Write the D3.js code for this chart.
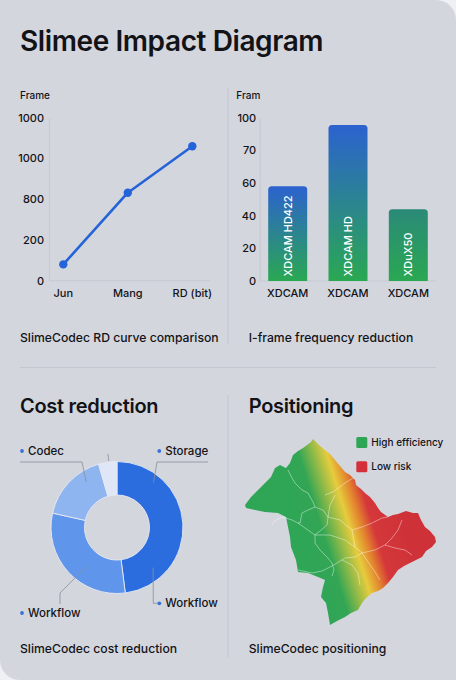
<!DOCTYPE html>
<html>
<head>
<meta charset="utf-8">
<script src="https://cdn.jsdelivr.net/npm/d3@7"></script>
<style>
html, body { margin: 0; padding: 0; background: #eef0f4; }
#card { width: 456px; height: 680px; background: #d4d6de; border-radius: 0 20px 0 20px; overflow: hidden; }
svg { display: block; font-family: Inter, "Noto Sans", sans-serif; }
</style>
</head>
<body>
<div id="card"><svg id="chart" width="456" height="680"></svg></div>
<script>
// RD curve (top left)
var lineMonths = ["Jun", "Mang", "RD (bit)"];
var lineValues = [100, 540, 825];
var lineTickValues = [0, 250, 500, 750, 1000];
var lineTickLabels = ["0", "200", "800", "1000", "1000"];

// I-frame bars (top right)
var barCategories = ["XDCAM", "XDCAM", "XDCAM"];
var barNames = ["XDCAM HD422", "XDCAM HD", "XDuX50"];
var barValues = [58, 95.5, 44];
var barTickValues = [0, 20, 40, 60, 80, 100];
var barTickLabels = ["0", "20", "40", "60", "70", "100"];

// Cost donut (bottom left)
var costLabels = ["Storage", "Workflow", "Codec", "Other"];
var costValues = [48, 30.5, 17, 4.5];
var costCallouts = ["Codec", "Storage", "Workflow", "Workflow"];

// Positioning map (bottom right), in map units
var legendLabels = ["High efficiency", "Low risk"];
var mapOutline = [
    [73,4],[79,10],[85,15],[90,19],[95,25],[100,31],[105,37],[110,40],[115,45],[116,50],
    [121,54],[125,58],[130,62],[135,68],[138,73],[141,77],[148,82],
    [153,80],[158,79],[166,76],[173,78],[178,78],[181,85],[185,92],[190,96],[195,102],[196,107],
    [192,112],[186,116],[182,122],[176,125],[170,128],[164,131],[158,135],[153,142],
    [148,148],[143,153],[138,156],[132,158],[126,163],[122,168],[118,175],[111,178],
    [105,182],[97,186],[90,190],[88,178],[86,168],[81,162],[83,152],[85,145],[78,142],
    [68,138],[58,137],[56,125],[51,112],[50,102],[48,92],[46,82],[38,78],[25,77],[15,75],
    [6,73],[5,70],[11,62],[18,55],[25,48],[31,42],[35,33],[40,30],[46,33],[50,28],[53,20],
    [58,16],[63,13],[71,7]
];
var mapBorders = [
    [[48,35],[52,43],[55,48],[62,55],[68,58],[73,67],[75,72]],
    [[75,72],[83,75],[88,82],[87,90],[80,96],[75,100]],
    [[32,90],[36,85],[42,82],[52,85],[58,88],[65,93],[75,100]],
    [[75,100],[75,108],[80,115],[87,122],[92,128],[94,135],[92,141]],
    [[75,100],[90,100],[105,105],[115,112],[122,118]],
    [[58,135],[72,138],[82,136],[92,131],[105,123],[115,122],[122,118]],
    [[122,118],[135,115],[145,110],[152,103],[158,95],[162,85]],
    [[112,95],[122,92],[132,88],[142,83],[148,82]],
    [[95,60],[90,70],[88,82]],
    [[85,60],[93,57],[105,48],[113,43]],
    [[122,118],[128,127],[135,137],[140,145]],
    [[145,110],[155,113],[165,115],[172,120]],
    [[88,82],[100,85],[112,95],[115,112]],
    [[62,78],[68,75],[75,72]],
    [[62,78],[60,88],[58,88]],
    [[102,125],[112,130],[118,138],[120,150]]
];

var ink = "#121317";
var svg = d3.select("#chart");

// title
svg.append("text")
    .attr("x", 20).attr("y", 51)
    .attr("font-size", 28).attr("font-weight", 600)
    .attr("letter-spacing", -0.4)
    .attr("fill", ink)
    .text("Slimee Impact Diagram");

// dividers
var divider = "#c3c6cf";
svg.append("line").attr("x1", 228).attr("x2", 228).attr("y1", 88).attr("y2", 344).attr("stroke", divider);
svg.append("line").attr("x1", 20).attr("x2", 436).attr("y1", 367.5).attr("y2", 367.5).attr("stroke", divider);
svg.append("line").attr("x1", 228).attr("x2", 228).attr("y1", 395).attr("y2", 657).attr("stroke", divider);

function caption(x, y, txt) {
    svg.append("text").attr("x", x).attr("y", y)
        .attr("font-size", 12.2).attr("font-weight", 500)
        .attr("fill", ink).text(txt);
}
function heading(x, y, txt) {
    svg.append("text").attr("x", x).attr("y", y)
        .attr("font-size", 20).attr("font-weight", 600)
        .attr("letter-spacing", -0.3)
        .attr("fill", ink).text(txt);
}
function styleAxis(g) {
    g.select(".domain").attr("stroke", "#c6c9d2");
    g.selectAll(".tick line").remove();
    g.selectAll(".tick text")
        .attr("font-family", "Inter, 'Noto Sans', sans-serif")
        .attr("font-size", 11).attr("font-weight", 500)
        .attr("fill", ink);
}

// ---------- Line chart ----------
svg.append("text").attr("x", 20).attr("y", 98.5)
    .attr("font-size", 10).attr("font-weight", 500).attr("fill", ink).text("Frame");

var yLine = d3.scaleLinear().domain([0, 1000]).range([280.7, 117.7]);
var xLine = d3.scalePoint().domain(lineMonths).range([63.3, 192.3]);

var gyl = svg.append("g").attr("transform", "translate(49,0)")
    .call(d3.axisLeft(yLine).tickValues(lineTickValues).tickSize(0).tickPadding(5)
        .tickFormat(function (d, i) { return lineTickLabels[i]; }));
styleAxis(gyl);

svg.append("line").attr("x1", 49).attr("x2", 210).attr("y1", yLine(0)).attr("y2", yLine(0))
    .attr("stroke", "#c6c9d2");

svg.selectAll(".xlab").data(lineMonths).enter().append("text")
    .attr("x", function (d) { return xLine(d); })
    .attr("y", 297)
    .attr("text-anchor", "middle")
    .attr("font-size", 11).attr("font-weight", 500).attr("fill", ink)
    .text(function (d) { return d; });

var lineGen = d3.line()
    .x(function (d, i) { return xLine(lineMonths[i]); })
    .y(function (d) { return yLine(d); });

svg.append("path").datum(lineValues)
    .attr("d", lineGen)
    .attr("fill", "none")
    .attr("stroke", "#2563d8")
    .attr("stroke-width", 2.6)
    .attr("stroke-linejoin", "round");

svg.selectAll(".pt").data(lineValues).enter().append("circle")
    .attr("cx", function (d, i) { return xLine(lineMonths[i]); })
    .attr("cy", function (d) { return yLine(d); })
    .attr("r", 4.2)
    .attr("fill", "#2563d8");

caption(20, 342, "SlimeCodec RD curve comparison");

// ---------- Bar chart ----------
svg.append("text").attr("x", 236.3).attr("y", 98.5)
    .attr("font-size", 10).attr("font-weight", 500).attr("fill", ink).text("Fram");

var yBar = d3.scaleLinear().domain([0, 100]).range([281, 117.7]);
var xBar = d3.scaleBand().domain(d3.range(barValues.length)).range([260, 436])
    .paddingInner(0.353).paddingOuter(0.136);

var gyb = svg.append("g").attr("transform", "translate(259.7,0)")
    .call(d3.axisLeft(yBar).tickValues(barTickValues).tickSize(0).tickPadding(3.5)
        .tickFormat(function (d, i) { return barTickLabels[i]; }));
styleAxis(gyb);

svg.append("line").attr("x1", 259.7).attr("x2", 436).attr("y1", yBar(0)).attr("y2", yBar(0))
    .attr("stroke", "#c6c9d2");

var topColor = d3.scaleLinear().domain([44, 58]).range(["#2b8a78", "#2c62cf"]).clamp(true);
var defs = svg.append("defs");
barValues.forEach(function (v, i) {
    var gr = defs.append("linearGradient").attr("id", "barGrad" + i)
        .attr("x1", 0).attr("y1", 0).attr("x2", 0).attr("y2", 1);
    gr.append("stop").attr("offset", "0%").attr("stop-color", topColor(v));
    gr.append("stop").attr("offset", "55%").attr("stop-color", d3.interpolateRgb(topColor(v), "#2aa752")(0.55));
    gr.append("stop").attr("offset", "100%").attr("stop-color", "#2aa852");
});

function topRoundedBar(x, y, w, h, r) {
    return "M" + x + "," + (y + h) +
        "V" + (y + r) +
        "Q" + x + "," + y + " " + (x + r) + "," + y +
        "H" + (x + w - r) +
        "Q" + (x + w) + "," + y + " " + (x + w) + "," + (y + r) +
        "V" + (y + h) + "Z";
}

svg.selectAll(".bar").data(barValues).enter().append("path")
    .attr("d", function (d, i) {
        return topRoundedBar(xBar(i), yBar(d), xBar.bandwidth(), yBar(0) - yBar(d), 3.5);
    })
    .attr("fill", function (d, i) { return "url(#barGrad" + i + ")"; });

svg.selectAll(".barname").data(barNames).enter().append("text")
    .attr("transform", function (d, i) {
        return "translate(" + (xBar(i) + xBar.bandwidth() / 2) + "," + (yBar(0) - 4.5) + ") rotate(-90)";
    })
    .attr("dy", "0.36em")
    .attr("font-size", 11).attr("font-weight", 500)
    .attr("fill", "#ffffff")
    .text(function (d) { return d; });

svg.selectAll(".barcat").data(barCategories).enter().append("text")
    .attr("x", function (d, i) { return xBar(i) + xBar.bandwidth() / 2; })
    .attr("y", 297)
    .attr("text-anchor", "middle")
    .attr("font-size", 11).attr("font-weight", 500).attr("fill", ink)
    .text(function (d) { return d; });

caption(248.7, 342, "I-frame frequency reduction");

// ---------- Donut ----------
heading(20, 413, "Cost reduction");

var cx = 117, cy = 527.5;
var costColors = d3.scaleOrdinal().domain(costLabels)
    .range(["#2b6ddf", "#5f95ea", "#8fb5f1", "#dfe7f7"]);
var pie = d3.pie().sort(null).value(function (d) { return d; });
var arc = d3.arc().innerRadius(32.5).outerRadius(66);
var gd = svg.append("g").attr("transform", "translate(" + cx + "," + cy + ")");

gd.selectAll("path").data(pie(costValues)).enter().append("path")
    .attr("d", arc)
    .attr("fill", function (d, i) { return costColors(costLabels[i]); })
    .attr("stroke", "#e6e9f1")
    .attr("stroke-width", 0.9);

var deg = Math.PI / 180;
function rad(a, r) { var p = d3.pointRadial(a * deg, r); return [cx + p[0], cy + p[1]]; }
var callouts = [
    { text: costCallouts[0], pts: [rad(326, 55), [82, 462], [20, 462]], dot: [22, 451] },
    { text: costCallouts[1], pts: [rad(39, 58), [157, 462], [208, 462]], dot: [159.3, 451] },
    { text: costCallouts[2], pts: [rad(138, 54), [153.3, 603.3], [157, 603.3]], dot: [159.3, 603.3] },
    { text: costCallouts[3], pts: [rad(218, 49), [60, 593], [60, 604]], dot: [22, 613] },
    { text: "", pts: [rad(353, 67), rad(353, 74)], dot: null }
];
callouts.forEach(function (c) {
    svg.append("path").attr("d", d3.line()(c.pts))
        .attr("fill", "none").attr("stroke", "#8b8e97").attr("stroke-width", 0.8);
    if (c.dot) {
        svg.append("circle").attr("cx", c.dot[0]).attr("cy", c.dot[1]).attr("r", 1.9).attr("fill", "#3b72d9");
        svg.append("text").attr("x", c.dot[0] + 6).attr("y", c.dot[1]).attr("dy", "0.36em")
            .attr("font-size", 11.5).attr("font-weight", 500).attr("fill", ink).text(c.text);
    }
});

caption(20, 653, "SlimeCodec cost reduction");

// ---------- Positioning map ----------
heading(248.7, 413, "Positioning");

var mx = d3.scaleLinear().domain([0, 200]).range([240, 440]);
var my = d3.scaleLinear().domain([0, 200]).range([435, 635]);
var mapLine = d3.line().x(function (d) { return mx(d[0]); }).y(function (d) { return my(d[1]); });

// colour ramp across the band, green (west) to red (east)
var bandC = [113, 93], nrm = [0.956, -0.294], half = 50;
var mg = defs.append("linearGradient").attr("id", "mapGrad").attr("gradientUnits", "userSpaceOnUse")
    .attr("x1", mx(bandC[0] - half * nrm[0])).attr("y1", my(bandC[1] - half * nrm[1]))
    .attr("x2", mx(bandC[0] + half * nrm[0])).attr("y2", my(bandC[1] + half * nrm[1]));
[[0, "#2fa556"], [0.2, "#33a654"], [0.47, "#e6cc3d"], [0.59, "#e3842e"], [0.7, "#d4383a"], [1, "#cf3138"]]
    .forEach(function (s) { mg.append("stop").attr("offset", s[0]).attr("stop-color", s[1]); });

svg.append("path").attr("d", mapLine(mapOutline) + "Z").attr("fill", "url(#mapGrad)");

svg.selectAll(".border").data(mapBorders).enter().append("path")
    .attr("d", mapLine)
    .attr("fill", "none")
    .attr("stroke", "rgba(255,255,255,0.55)")
    .attr("stroke-width", 0.75)
    .attr("stroke-linejoin", "round");

var legendColors = ["#2fa556", "#d3303a"];
legendLabels.forEach(function (t, i) {
    var y = 437 + i * 24.3;
    svg.append("rect").attr("x", 356.3).attr("y", y).attr("width", 11).attr("height", 11)
        .attr("rx", 1.5).attr("fill", legendColors[i]);
    svg.append("text").attr("x", 371.3).attr("y", y + 5.5).attr("dy", "0.36em")
        .attr("font-size", 10).attr("font-weight", 500).attr("fill", ink).text(t);
});

caption(248.7, 653, "SlimeCodec positioning");
</script>
</body>
</html>
